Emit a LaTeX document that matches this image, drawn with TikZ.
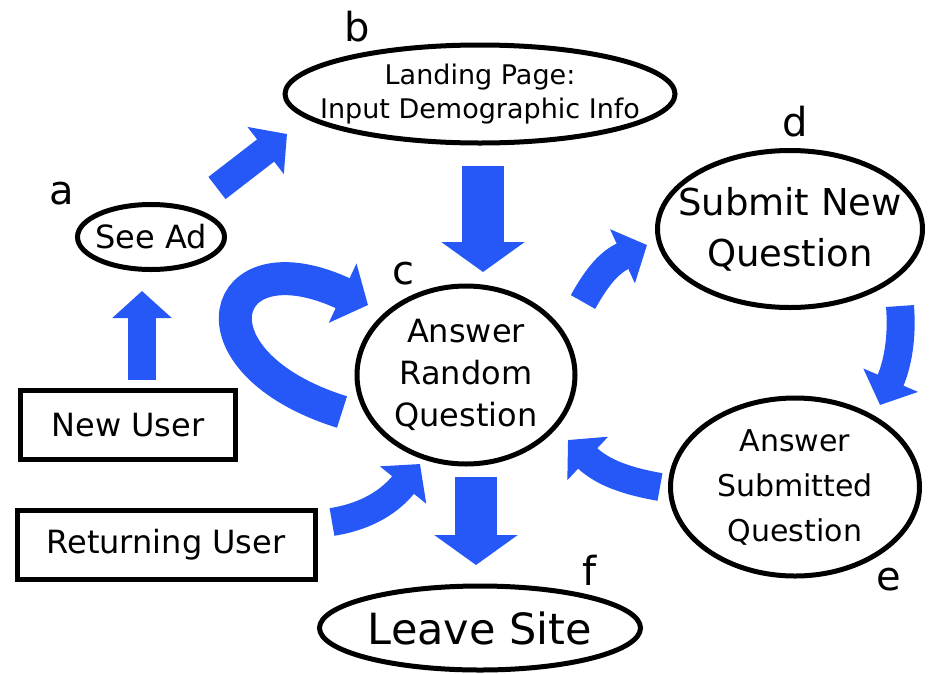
\documentclass[tikz,border=0pt]{standalone}
\usepackage{fontspec}
\setmainfont{DejaVu Sans}
\usetikzlibrary{arrows.meta}
\usetikzlibrary{shapes.geometric}
\definecolor{flowblue}{RGB}{37,88,247}

\begin{document}
\begin{tikzpicture}[x=1pt,y=-1pt,inner sep=0pt,outer sep=0pt,line width=5pt,
state/.style={draw,ellipse,inner sep=-30pt,align=center},
userbox/.style={draw,rectangle,minimum width=#1,minimum height=69pt,font=\fontsize{32}{40}\selectfont},
tag/.style={font=\fontsize{40}{40}\selectfont},
flow/.style={draw=flowblue,line width=28pt,-{Triangle[length=27pt,width=58pt]}},
bigflow/.style={draw=flowblue,line width=42pt,-{Triangle[length=30pt,width=82pt]}}]
\useasboundingbox (0,0) rectangle (940,673);
\draw (151,237) node[state,minimum width=147pt,minimum height=65pt,font=\fontsize{32}{40}\selectfont] (seead) {See Ad};
\draw (480,94) node[state,minimum width=390pt,minimum height=98pt,font=\fontsize{27}{34}\selectfont] (landing) {Landing Page:\\Input Demographic Info};
\draw (466,375) node[state,minimum width=218pt,minimum height=178pt,font=\fontsize{32}{42}\selectfont] (random) {Answer\\Random\\Question};
\draw (790,229) node[state,minimum width=265pt,minimum height=157pt,font=\fontsize{37}{51}\selectfont] (submit) {Submit New\\Question};
\draw (795,487) node[state,minimum width=249pt,minimum height=178pt,font=\fontsize{30}{45}\selectfont] (answersub) {Answer\\Submitted\\Question};
\draw (480,628) node[state,minimum width=321pt,minimum height=84pt,font=\fontsize{43}{50}\selectfont] (leave) {Leave Site};
\draw (128,425) node[userbox=215pt] (newuser) {New User};
\draw (166,545) node[userbox=298pt] (retuser) {Returning User};
% letters
\draw (62,194) node[tag] (tga) {a};
\draw (357,27) node[tag] (tgb) {b};
\draw (403,274) node[tag] (tgc) {c};
\draw (795,122) node[tag] (tgd) {d};
\draw (889,580) node[tag] (tge) {e};
\draw (590,570) node[tag] (tgf) {f};
% flows
\draw[flow] ([shift={(14,-45)}]newuser.center) -- ([shift={(-9,54)}]seead.center);
\draw[flow] ([shift={(66,-49)}]seead.center) -- ([shift={(-193,40)}]landing.center);
\draw[bigflow] ([shift={(3,72)}]landing.center) -- ([shift={(17,-103)}]random.center);
\draw[flow,line width=33pt,-{Triangle[length=28pt,width=64pt]}] ([shift={(-124,37)}]random.center) .. controls +(-160,-50) and +(-150,-70) .. ([shift={(-98,-70)}]random.center);
\draw[flow] ([shift={(117,-73)}]random.center) .. controls +(15,-27) and +(-37,17) .. ([shift={(-143,16)}]submit.center);
\draw[flow] ([shift={(110,77)}]submit.center) .. controls +(3,39) and +(15,-35) .. ([shift={(85,-82)}]answersub.center);
\draw[flow] ([shift={(-135,0)}]answersub.center) .. controls +(-40,-7) and +(32,30) .. ([shift={(102,65)}]random.center);
\draw[flow] ([shift={(166,-23)}]retuser.center) .. controls +(43,-7) and +(-25,31) .. ([shift={(-46,89)}]random.center);
\draw[bigflow] ([shift={(10,102)}]random.center) -- ([shift={(-4,-63)}]leave.center);
\end{tikzpicture}
\end{document}
